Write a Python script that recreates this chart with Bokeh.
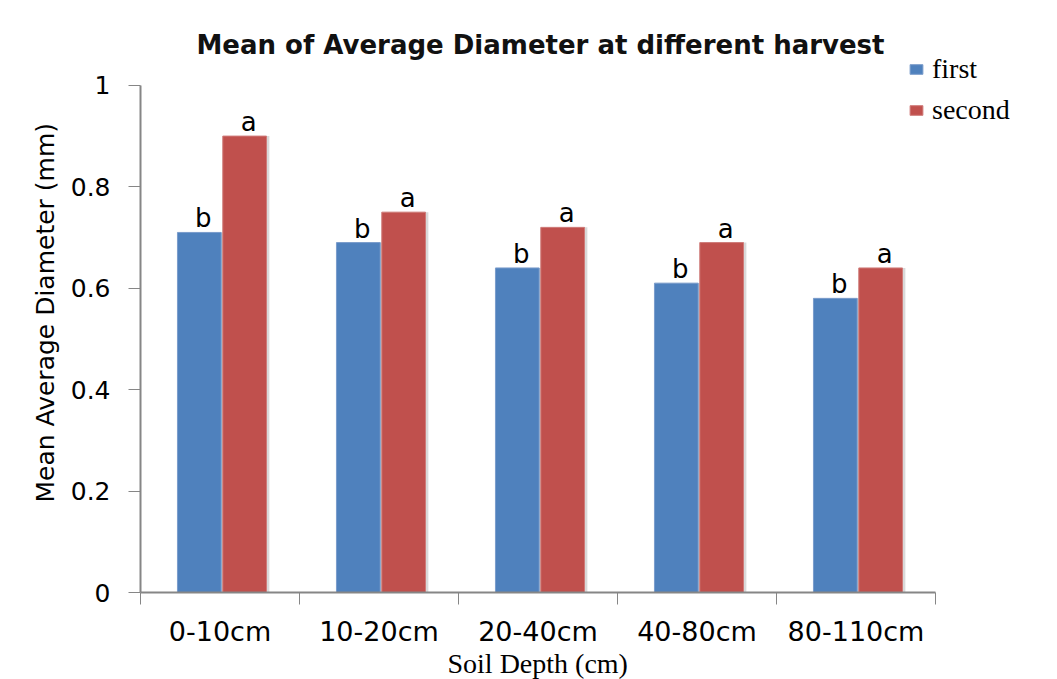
from bokeh.plotting import figure
from bokeh.models import Range1d, FixedTicker, Legend, LegendItem, ColumnDataSource, Label, Title
from bokeh.embed import file_html
from bokeh.resources import INLINE
from bokeh.core.properties import value

# ---- data ----
categories = ["0-10cm", "10-20cm", "20-40cm", "40-80cm", "80-110cm"]
first = [0.71, 0.69, 0.64, 0.61, 0.58]
second = [0.90, 0.75, 0.72, 0.69, 0.64]
first_letters = ["b", "b", "b", "b", "b"]
second_letters = ["a", "a", "a", "a", "a"]
series_names = ["first", "second"]
y_ticks = [0, 0.2, 0.4, 0.6, 0.8, 1.0]
y_tick_labels = ["0", "0.2", "0.4", "0.6", "0.8", "1"]
title_text = "Mean of Average Diameter at different harvest"
x_title = "Soil Depth (cm)"
y_title = "Mean Average Diameter  (mm)"

BLUE = "#4F81BD"
RED = "#C0504D"
AXIS = "#868686"

n = len(categories)
idx = list(range(n))
bar_w = 0.275
x_first = [i + 0.37 for i in idx]
x_second = [i + 0.655 for i in idx]

src1 = ColumnDataSource(dict(x=x_first, xs=[v + 0.018 for v in x_first], top=first, lab=first_letters))
src2 = ColumnDataSource(dict(x=x_second, xs=[v + 0.018 for v in x_second], top=second, lab=second_letters))

# frame: left 140, right 1057, top 10, bottom 593 ; 159 px per category, 508 px per unit
p = figure(width=1057, height=679, output_backend="svg", toolbar_location=None,
           x_range=Range1d(0, 917 / 159), y_range=Range1d(0, 583 / 508),
           min_border_left=140, min_border_right=0, min_border_top=10,
           min_border_bottom=86)
p.title.visible = False
p.outline_line_color = None
p.xgrid.visible = False
p.ygrid.visible = False

# soft shadows behind bars
for src in (src1, src2):
    p.vbar(x="xs", top="top", width=bar_w, source=src, fill_color="#D9D9D9",
           line_color=None)

r1 = p.vbar(x="x", top="top", width=bar_w, source=src1, fill_color=BLUE,
            line_color="#7A9CCB", line_width=1)
r2 = p.vbar(x="x", top="top", width=bar_w, source=src2, fill_color=RED,
            line_color="#CF7B79", line_width=1)

for src in (src1, src2):
    p.text(x="x", y="top", text="lab", source=src, text_align="center",
           text_baseline="alphabetic", y_offset=-14, x_offset=4,
           text_font=value("DejaVu Sans"), text_font_size="26px", text_color="black")

# chart title (inside the extended frame)
p.add_layout(Label(x=400, y=548, x_units="screen", y_units="screen", text=title_text,
                   text_align="center", text_baseline="middle",
                   text_font="DejaVu Sans", text_font_style="bold",
                   text_font_size="26px", text_color="#111111"))

# x axis
xa = p.xaxis[0]
xa.bounds = (0, n)
xa.ticker = FixedTicker(ticks=[i + 0.5 for i in idx], minor_ticks=list(range(n + 1)))
xa.major_label_overrides = {i + 0.5: c for i, c in zip(idx, categories)}
xa.major_tick_line_color = None
xa.major_tick_in = 0
xa.major_tick_out = 0
xa.minor_tick_in = 0
xa.minor_tick_out = 12
xa.minor_tick_line_color = AXIS
xa.axis_line_color = AXIS
xa.axis_line_width = 2
xa.major_label_standoff = 11
xa.major_label_text_font = "DejaVu Sans"
xa.major_label_text_font_size = "27px"
xa.major_label_text_color = "black"

p.add_layout(Title(text=x_title, align="left", offset=307, standoff=-3,
                   vertical_align="top",
                   text_font="Liberation Serif", text_font_style="normal",
                   text_font_size="28px", text_color="black"), "below")

# y axis
ya = p.yaxis[0]
ya.bounds = (0, 1)
ya.ticker = FixedTicker(ticks=y_ticks)
ya.major_label_overrides = dict(zip(y_ticks, y_tick_labels))
ya.major_tick_in = 0
ya.major_tick_out = 12
ya.major_tick_line_color = AXIS
ya.minor_tick_line_color = None
ya.axis_line_color = AXIS
ya.axis_line_width = 2
ya.major_label_standoff = 18
ya.major_label_text_font = "DejaVu Sans"
ya.major_label_text_font_size = "25px"
ya.major_label_text_color = "black"

p.add_layout(Title(text=y_title, align="left", offset=90, standoff=16,
                   text_font="DejaVu Sans", text_font_style="normal",
                   text_font_size="25px", text_color="black"), "left")

legend = Legend(items=[LegendItem(label=series_names[0], renderers=[r1]),
                       LegendItem(label=series_names[1], renderers=[r2])],
                location=(768, 466), orientation="vertical",
                glyph_width=16, glyph_height=12, label_standoff=8, spacing=9,
                padding=0, margin=0, border_line_color=None,
                background_fill_alpha=0,
                label_text_font="Liberation Serif", label_text_font_size="28px",
                label_text_color="black")
p.add_layout(legend)

open("out.html", "w").write(file_html(p, INLINE))
